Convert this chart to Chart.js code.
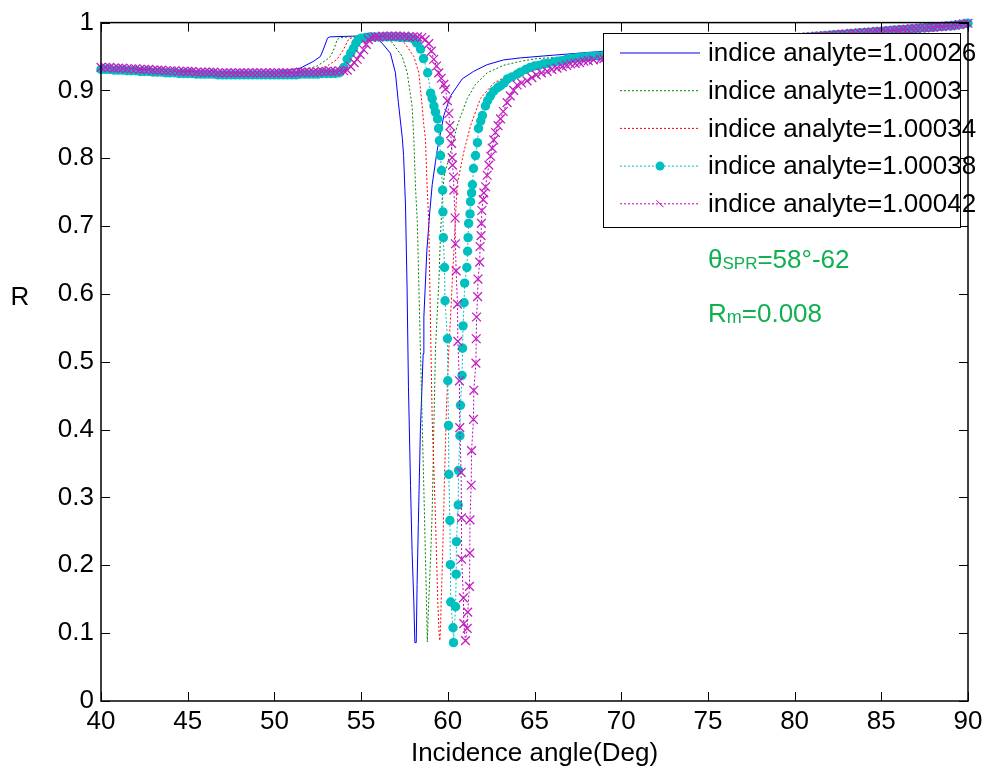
<!DOCTYPE html>
<html>
<head>
<meta charset="utf-8">
<script src="https://cdn.jsdelivr.net/npm/chart.js@4/dist/chart.umd.min.js"></script>
<style>
html,body{margin:0;padding:0;background:#fff;}
#c{display:block;}
</style>
</head>
<body>
<canvas id="c" width="988" height="774"></canvas>
<script>
// ---------- data ----------
const xTickLabels = [40,45,50,55,60,65,70,75,80,85,90];
const yTickLabels = [0,0.1,0.2,0.3,0.4,0.5,0.6,0.7,0.8,0.9,1];
const seriesLabels = ['indice analyte=1.00026','indice analyte=1.0003','indice analyte=1.00034','indice analyte=1.00038','indice analyte=1.00042'];

// shared sampling grids for the marker series (flat parts)
const lowAngles = [40,40.25,40.5,40.75,41,41.25,41.5,41.75,42,42.25,42.5,42.75,43,43.25,43.5,43.75,44,44.25,44.5,44.75,45,45.25,45.5,45.75,46,46.25,46.5,46.75,47,47.25,47.5,47.75,48,48.25,48.5,48.75,49,49.25,49.5,49.75,50,50.25,50.5,50.75,51,51.25,51.5,51.75,52,52.25,52.5,52.75,53,53.25,53.5];
const highAngles = [78,78.25,78.5,78.75,79,79.25,79.5,79.75,80,80.25,80.5,80.75,81,81.25,81.5,81.75,82,82.25,82.5,82.75,83,83.25,83.5,83.75,84,84.25,84.5,84.75,85,85.25,85.5,85.75,86,86.25,86.5,86.75,87,87.25,87.5,87.75,88,88.25,88.5,88.75,89,89.25,89.5,89.75,90];
const rTail = [.972,.972,.973,.974,.975,.975,.976,.977,.977,.978,.978,.979,.979,.980,.980,.981,.981,.982,.982,.983,.983,.984,.984,.985,.985,.986,.986,.987,.987,.988,.988,.989,.989,.990,.990,.991,.991,.992,.992,.993,.993,.994,.994,.995,.995,.996,.997,.998,.999];

// n = 1.00026 (blue)
const angleBlue = [40,42,44,46,48,50,50.8,51.5,52.26,52.65,52.83,53.06,53.2,54.5,55.8,56.23,56.69,56.98,57.15,57.38,57.45,57.56,57.65,57.73,57.85,57.94,58.04,58.10,58.18,58.23,58.3,58.42,58.58,58.62,58.79,58.96,59.1,59.29,59.39,59.77,60.16,60.83,61.48,62.27,63.22,64.2,66.1,68.6,70,72,74,76,78,80,82,84,86,88,89,90];
const rBlue = [.934,.932,.930,.928,.927,.928,.930,.933,.943,.950,.961,.977,.979,.980,.980,.969,.955,.926,.882,.829,.804,.731,.610,.464,.318,.220,.147,.086,.086,.172,.26,.40,.512,.566,.663,.721,.761,.795,.812,.863,.892,.917,.928,.938,.945,.948,.952,.957,.960,.963,.966,.969,.972,.977,.981,.985,.989,.993,.995,.999];

// n = 1.0003 (green)
const angleGreen = [40,44,48,51,51.8,52.46,53.0,53.23,53.45,53.62,53.8,55,56.5,56.87,57.37,57.66,57.94,58.04,58.14,58.24,58.38,58.52,58.66,58.77,58.82,58.9,59.0,59.1,59.19,59.29,59.39,59.48,59.58,59.71,59.8,60.16,60.54,61.12,61.6,62.27,63.21,64.2,65.16,67.08,68.6,70,72,74,76,78,80,82,84,86,88,89,90];
const rGreen = [.933,.929,.926,.928,.931,.936,.945,.950,.962,.975,.978,.980,.979,.968,.950,.926,.877,.829,.756,.707,.561,.415,.269,.147,.087,.147,.206,.279,.396,.520,.571,.615,.688,.755,.775,.809,.848,.888,.909,.926,.937,.943,.947,.950,.955,.958,.962,.965,.968,.972,.977,.981,.985,.989,.993,.995,.999];

// n = 1.00034 (red)
const angleRed = [40,44,48,52.3,53.04,53.62,53.98,54.27,54.5,56,57.2,57.56,58.04,58.33,58.52,58.62,58.71,58.81,58.9,59.0,59.1,59.29,59.42,59.5,59.54,59.58,59.62,59.68,59.73,59.77,59.81,59.87,59.92,60.0,60.06,60.16,60.25,60.35,60.44,60.54,60.92,61.31,61.88,62.65,63.43,64.2,65.16,67.08,68.64,70,72,74,76,78,80,82,84,86,88,89,90];
const rRed = [.933,.929,.926,.929,.936,.946,.960,.975,.978,.980,.978,.968,.950,.926,.877,.848,.829,.756,.707,.561,.415,.269,.147,.100,.089,.108,.147,.196,.245,.283,.333,.381,.429,.479,.520,.566,.615,.663,.712,.761,.809,.848,.888,.911,.921,.931,.940,.947,.953,.957,.961,.964,.968,.972,.977,.981,.985,.989,.993,.995,.999];

// n = 1.00038 (cyan, dots)
const rLowCyan = [.931,.931,.931,.930,.930,.930,.929,.929,.929,.928,.928,.928,.927,.927,.927,.926,.926,.926,.925,.925,.925,.925,.924,.924,.924,.924,.924,.923,.923,.923,.923,.923,.923,.923,.923,.923,.923,.923,.923,.923,.923,.923,.923,.923,.923,.923,.924,.924,.924,.924,.924,.925,.925,.925,.925];
const midAngleCyan = [53.75,54.0,54.2,54.4,54.56,54.7,54.85,55.0,55.25,55.5,55.75,56.0,56.25,56.5,56.75,57.0,57.25,57.5,57.75,58.03,58.2,58.43,58.6,58.84,59.01,59.1,59.2,59.29,59.41,59.47,59.52,59.58,59.64,59.70,59.72,59.74,59.81,59.84,59.98,60.0,60.04,60.06,60.12,60.15,60.17,60.3,60.33,60.45,60.48,60.5,60.6,60.62,60.7,60.73,60.82,60.85,60.88,60.94,60.97,61.1,61.14,61.17,61.2,61.28,61.31,61.37,61.42,61.48,61.6,61.71,61.77,61.9,62.0,62.17,62.3,62.46,62.65,62.87,63.05,63.25,63.44,63.7,64.0,64.19,64.5,64.75,65.0,65.25,65.5,65.75,66.1,66.35,66.6,66.85,67.08,67.35,67.6,67.85,68.1,68.35,68.64,69,70,71,72,73,74,75,76,77];
const midRCyan = [.926,.934,.946,.955,.962,.970,.975,.977,.978,.979,.979,.979,.979,.979,.979,.979,.978,.978,.978,.976,.970,.961,.947,.926,.896,.888,.877,.868,.858,.844,.826,.804,.782,.753,.721,.683,.639,.590,.534,.472,.406,.334,.266,.201,.146,.108,.086,.139,.187,.235,.289,.340,.391,.436,.480,.520,.553,.587,.616,.639,.663,.683,.704,.718,.736,.749,.761,.785,.804,.823,.844,.855,.863,.877,.885,.892,.899,.904,.907,.911,.917,.920,.924,.927,.931,.934,.936,.937,.939,.940,.942,.943,.944,.946,.947,.948,.949,.949,.950,.950,.951,.952,.953,.955,.957,.959,.961,.963,.966,.969];

// n = 1.00042 (magenta, crosses)
const rLowMag = [.934,.934,.934,.933,.933,.933,.932,.932,.932,.931,.931,.931,.930,.930,.930,.929,.929,.929,.928,.928,.928,.928,.927,.927,.927,.927,.927,.926,.926,.926,.926,.926,.926,.926,.926,.926,.926,.926,.926,.926,.926,.926,.926,.926,.926,.926,.927,.927,.927,.927,.927,.928,.928,.928,.928];
const midAngleMag = [53.75,54.0,54.2,54.4,54.6,54.77,54.95,55.15,55.3,55.42,55.6,55.8,56.0,56.25,56.5,56.75,57.0,57.25,57.5,57.75,58.0,58.25,58.5,58.7,58.9,59.05,59.19,59.35,59.48,59.62,59.77,59.87,59.97,60.06,60.12,60.16,60.22,60.25,60.27,60.33,60.35,60.42,60.44,60.48,60.56,60.58,60.67,60.69,60.77,60.79,60.8,60.9,60.92,61.02,61.12,61.15,61.25,61.27,61.28,61.35,61.37,61.48,61.5,61.62,61.64,61.66,61.72,61.74,61.84,61.86,61.92,61.94,61.96,62.04,62.08,62.18,62.27,62.37,62.47,62.56,62.65,62.75,62.9,63.04,63.2,63.42,63.6,63.8,64.0,64.25,64.57,64.85,65.1,65.4,65.73,66.0,66.3,66.6,66.85,67.08,67.35,67.6,67.85,68.1,68.4,68.81,69,70,71,72,73,74,75,76,77];
const midRMag = [.929,.929,.930,.935,.941,.946,.953,.960,.968,.975,.978,.979,.979,.980,.980,.980,.980,.980,.980,.979,.979,.979,.978,.975,.969,.958,.946,.936,.926,.918,.909,.902,.885,.866,.848,.836,.822,.801,.790,.772,.753,.712,.674,.634,.585,.530,.472,.403,.337,.270,.209,.152,.114,.089,.107,.131,.169,.218,.267,.318,.369,.415,.458,.498,.534,.566,.596,.622,.647,.670,.686,.704,.723,.739,.749,.758,.775,.790,.803,.815,.827,.838,.848,.858,.869,.882,.892,.900,.908,.911,.914,.919,.923,.926,.928,.931,.933,.935,.937,.939,.940,.941,.943,.944,.945,.946,.947,.950,.953,.956,.958,.961,.963,.966,.969];

// ---------- build library data ----------
const pts = (xs, ys) => xs.map((a, i) => ({x: a, y: ys[i]}));
const angleCyan = lowAngles.concat(midAngleCyan, highAngles);
const rCyan = rLowCyan.concat(midRCyan, rTail);
const angleMag = lowAngles.concat(midAngleMag, highAngles);
const rMag = rLowMag.concat(midRMag, rTail);

const FONT = '"Liberation Sans", Arial, sans-serif';
const FS = 26;

const datasets = [
  {label: seriesLabels[0], data: pts(angleBlue, rBlue), borderColor: '#0000FF', borderWidth: 1, pointRadius: 0, order: 5, mk: 'none'},
  {label: seriesLabels[1], data: pts(angleGreen, rGreen), borderColor: '#008000', borderWidth: 1, borderDash: [2,2], pointRadius: 0, order: 4, mk: 'none'},
  {label: seriesLabels[2], data: pts(angleRed, rRed), borderColor: '#FF0000', borderWidth: 1, borderDash: [2,2], pointRadius: 0, order: 3, mk: 'none'},
  {label: seriesLabels[3], data: pts(angleCyan, rCyan), borderColor: '#00BFBF', borderWidth: 1, borderDash: [2,2], pointRadius: 4.7, pointStyle: 'circle', pointBackgroundColor: '#00BFBF', pointBorderColor: '#00BFBF', pointBorderWidth: 0, order: 2, clip: false, mk: 'dot'},
  {label: seriesLabels[4], data: pts(angleMag, rMag), borderColor: '#BF00BF', borderWidth: 1, borderDash: [2,2], pointRadius: 6.2, pointStyle: 'crossRot', pointBackgroundColor: '#BF00BF', pointBorderColor: '#C020C0', pointBorderWidth: 1.3, order: 1, clip: false, mk: 'x'}
];

const decor = {
  id: 'decor',
  afterDatasetsDraw(chart) {
    const {ctx, chartArea: a, scales: {x, y}} = chart;
    ctx.save();
    // inward ticks on all four sides
    ctx.strokeStyle = '#000';
    ctx.lineWidth = 1;
    ctx.setLineDash([]);
    ctx.beginPath();
    x.ticks.forEach(t => {
      const px = Math.round(x.getPixelForValue(t.value)) + 0.5;
      ctx.moveTo(px, a.bottom); ctx.lineTo(px, a.bottom - 9);
      ctx.moveTo(px, a.top); ctx.lineTo(px, a.top + 9);
    });
    y.ticks.forEach(t => {
      const py = Math.round(y.getPixelForValue(t.value)) + 0.5;
      ctx.moveTo(a.left, py); ctx.lineTo(a.left + 9, py);
      ctx.moveTo(a.right, py); ctx.lineTo(a.right - 9, py);
    });
    ctx.stroke();
    ctx.lineWidth = 1.5;
    ctx.strokeRect(a.left, a.top, a.right - a.left, a.bottom - a.top);

    // legend box (inside axes, top right)
    const lx = 603.5, ly = 33.5, lw = 357, lh = 194;
    ctx.fillStyle = '#fff';
    ctx.fillRect(lx, ly, lw, lh);
    ctx.lineWidth = 1;
    ctx.strokeStyle = '#000';
    ctx.strokeRect(lx, ly, lw, lh);
    chart.data.datasets.forEach((ds, i) => {
      const yy = 53 + i * 37.7;
      ctx.strokeStyle = ds.borderColor;
      ctx.lineWidth = 1;
      ctx.setLineDash(ds.borderDash || []);
      ctx.beginPath(); ctx.moveTo(620, yy); ctx.lineTo(700, yy); ctx.stroke();
      ctx.setLineDash([]);
      if (ds.mk === 'dot') {
        ctx.fillStyle = ds.pointBackgroundColor;
        ctx.beginPath(); ctx.arc(660, yy, 4.5, 0, Math.PI * 2); ctx.fill();
      } else if (ds.mk === 'x') {
        ctx.beginPath(); ctx.moveTo(656.5, yy - 3.5); ctx.lineTo(663.5, yy + 3.5); ctx.stroke();
      }
      ctx.fillStyle = '#000';
      ctx.font = FS + 'px ' + FONT;
      ctx.textBaseline = 'middle';
      ctx.textAlign = 'left';
      ctx.fillText(ds.label, 708, yy + 1);
    });

    // annotations (main text with subscripts), laid out piece by piece
    const runs = (x0, base, parts) => {
      let xx = x0;
      parts.forEach(([txt, size, dy]) => {
        ctx.font = size + 'px ' + FONT;
        ctx.fillText(txt, xx, base + dy);
        xx += ctx.measureText(txt).width;
      });
    };
    ctx.fillStyle = '#10B050';
    ctx.textAlign = 'left';
    ctx.textBaseline = 'alphabetic';
    runs(708, 268, [['θ', FS, 0], ['SPR', 17, 1], ['=58°-62', FS, 0]]);
    runs(708, 322, [['R', FS, 0], ['m', 18, 1], ['=0.008', FS, 0]]);

    // y-axis title (upright)
    ctx.fillStyle = '#000';
    ctx.font = FS + 'px ' + FONT;
    ctx.textAlign = 'center';
    ctx.textBaseline = 'middle';
    ctx.fillText('R', 20, 298);
    ctx.restore();
  }
};

new Chart(document.getElementById('c'), {
  type: 'line',
  data: {datasets},
  options: {
    responsive: false,
    devicePixelRatio: 1,
    animation: false,
    events: [],
    layout: {padding: {left: 0, right: 20, top: 16, bottom: 0}},
    elements: {line: {tension: 0}},
    plugins: {legend: {display: false}, tooltip: {enabled: false}},
    scales: {
      x: {
        type: 'linear', min: 40, max: 90,
        afterBuildTicks: s => { s.ticks = xTickLabels.map(v => ({value: v})); },
        grid: {display: false, drawTicks: false},
        border: {display: false},
        ticks: {color: '#000', font: {family: FONT, size: FS}, padding: 5, maxRotation: 0, autoSkip: false,
                callback: v => String(v)},
        title: {display: true, text: 'Incidence angle(Deg)', color: '#000', font: {family: FONT, size: FS}, padding: {top: 0, bottom: 5}},
        afterFit: s => { s.height = 73; }
      },
      y: {
        type: 'linear', min: 0, max: 1,
        afterBuildTicks: s => { s.ticks = yTickLabels.map(v => ({value: v})); },
        grid: {display: false, drawTicks: false},
        border: {display: false},
        ticks: {color: '#000', font: {family: FONT, size: FS}, padding: 7,
                callback: v => String(Number(v.toFixed(1)))},
        afterFit: s => { s.width = 101; }
      }
    }
  },
  plugins: [decor]
});
</script>
</body>
</html>
